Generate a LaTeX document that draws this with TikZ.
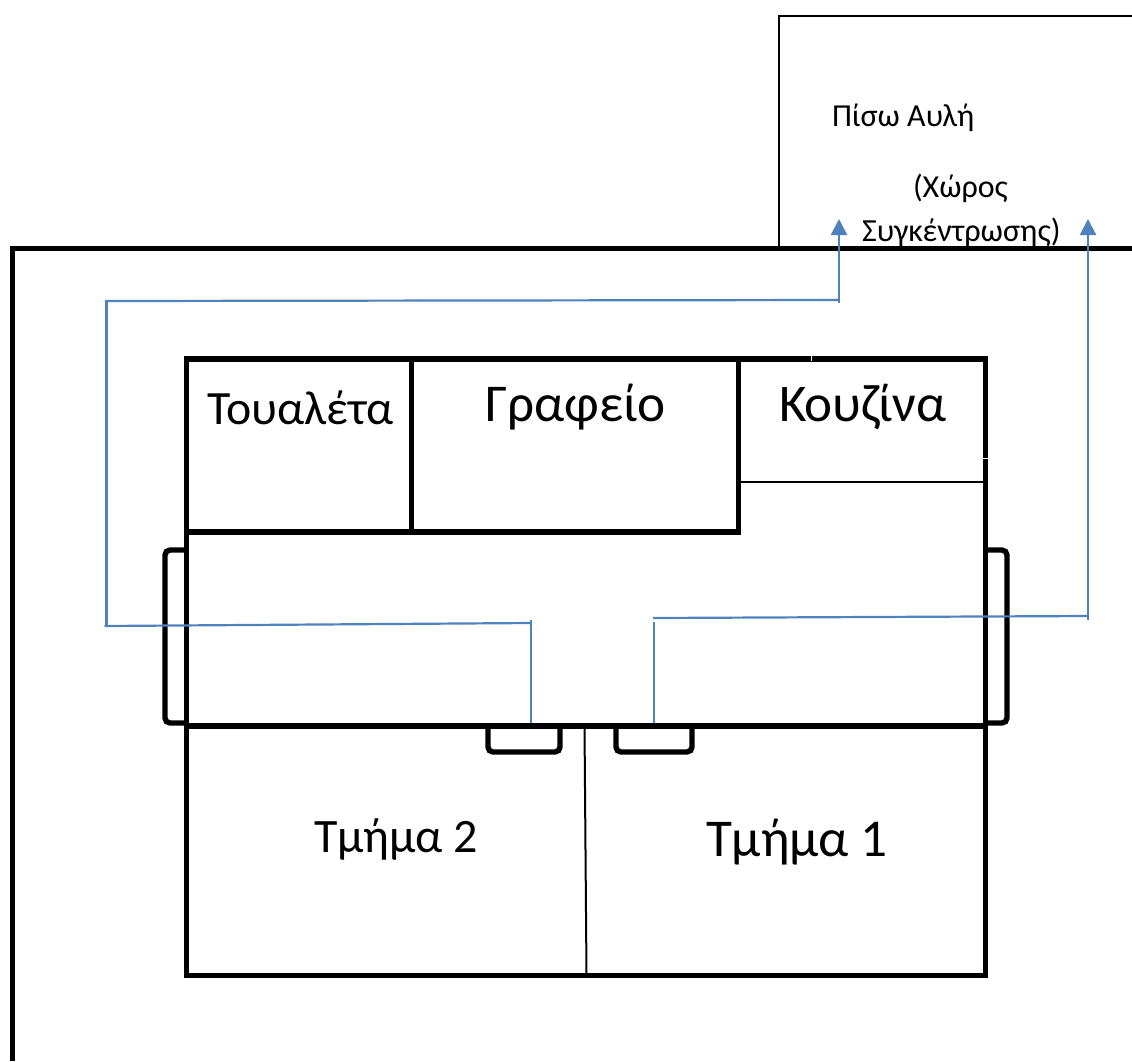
\documentclass[tikz,border=0pt]{standalone}
\usepackage{fontspec}
\setmainfont{Carlito}
\usetikzlibrary{arrows.meta}
\tikzset{
  wall/.style={line width=5.4pt},
  thinwall/.style={line width=2pt},
  door/.style={line width=5.4pt,rounded corners=5pt},
  route/.style={line width=2.2pt,draw=routeblue},
  lbl/.style={anchor=base west,inner sep=0pt,outer sep=0pt}
}
\definecolor{routeblue}{RGB}{79,129,189}
\begin{document}
\begin{tikzpicture}[x=1pt,y=-1pt]
    \useasboundingbox (0,0) rectangle (1132,1061);

    % Draw yard and outer wall
    \draw[thinwall] (779,247) -- (779,16) -- (1132,16);
    \draw[wall] (12.5,1061) -- (12.5,248.5) -- (1132,248.5);

    % Draw building
    \draw[wall] (186.5,359) rectangle (985.5,975.5);
    \draw[wall] (186.5,726) -- (985.5,726);
    \draw[wall] (411.5,359) -- (411.5,532);
    \draw[wall] (186.5,532) -- (738.5,532) -- (738.5,359);
    \draw[thinwall] (738.5,482) -- (985.5,482);
    \draw[thinwall] (584.5,726) -- (586.5,975);

    % Small breaks in the walls
    \draw[white,line width=1pt] (811,356) -- (811,361);
    \draw[white,line width=1pt] (983,458) -- (988,458);

    % Draw doors
    \draw[door] (186.5,550) -- (165,550) -- (165,723) -- (186.5,723);
    \draw[door] (985.5,550) -- (1007,550) -- (1007,723) -- (985.5,723);
    \draw[door] (488,726) -- (488,752) -- (560,752) -- (560,726);
    \draw[door] (616,726) -- (616,752) -- (692,752) -- (692,726);

    % Draw routes
    \coordinate (leftdoor) at (531,723);
    \coordinate (leftup) at (531,620);
    \coordinate (leftturn) at (531,623);
    \coordinate (leftside) at (104.5,626);
    \coordinate (leftbase) at (106.5,626);
    \coordinate (leftback) at (106.5,300);
    \coordinate (leftback2) at (105.5,301);
    \coordinate (leftyard) at (839.5,300);
    \coordinate (leftrise) at (839,303);
    \coordinate (lefttip) at (839,219);
    \coordinate (rightdoor) at (654,723);
    \coordinate (rightup) at (654,622);
    \coordinate (rightturn) at (653,618);
    \coordinate (rightside) at (1089,616);
    \coordinate (rightrise) at (1088,620);
    \coordinate (righttip) at (1088,219);
    \draw[route] (leftdoor) -- (leftup);
    \draw[route] (leftturn) -- (leftside);
    \draw[route] (leftbase) -- (leftback);
    \draw[route] (leftback2) -- (leftyard);
    \draw[route,-{Triangle[width=16pt,length=16pt]}] (leftrise) -- (lefttip);
    \draw[route] (rightdoor) -- (rightup);
    \draw[route] (rightturn) -- (rightside);
    \draw[route,-{Triangle[width=16pt,length=16pt]}] (rightrise) -- (righttip);

    % Draw labels
    \node[lbl,font=\fontsize{47.8}{47.8}\selectfont] (toilet) at (207,424) {Τουαλέτα};
    \node[lbl,font=\fontsize{53.2}{53.2}\selectfont] (office) at (485,421) {Γραφείο};
    \node[lbl,font=\fontsize{53}{53}\selectfont] (kitchen) at (779,421) {Κουζίνα};
    \node[lbl,font=\fontsize{48}{48}\selectfont] (class2) at (314,852) {Τμήμα 2};
    \node[lbl,font=\fontsize{53.2}{53.2}\selectfont] (class1) at (706,856) {Τμήμα 1};
    \node[lbl,font=\fontsize{32}{32}\selectfont] (yard) at (832,126) {Πίσω Αυλή};
    \node[lbl,font=\fontsize{32}{32}\selectfont] (space) at (913,197) {(Χώρος};
    \node[lbl,font=\fontsize{32.2}{32.2}\selectfont] (gather) at (862,241) {Συγκέντρωσης)};
\end{tikzpicture}
\end{document}
